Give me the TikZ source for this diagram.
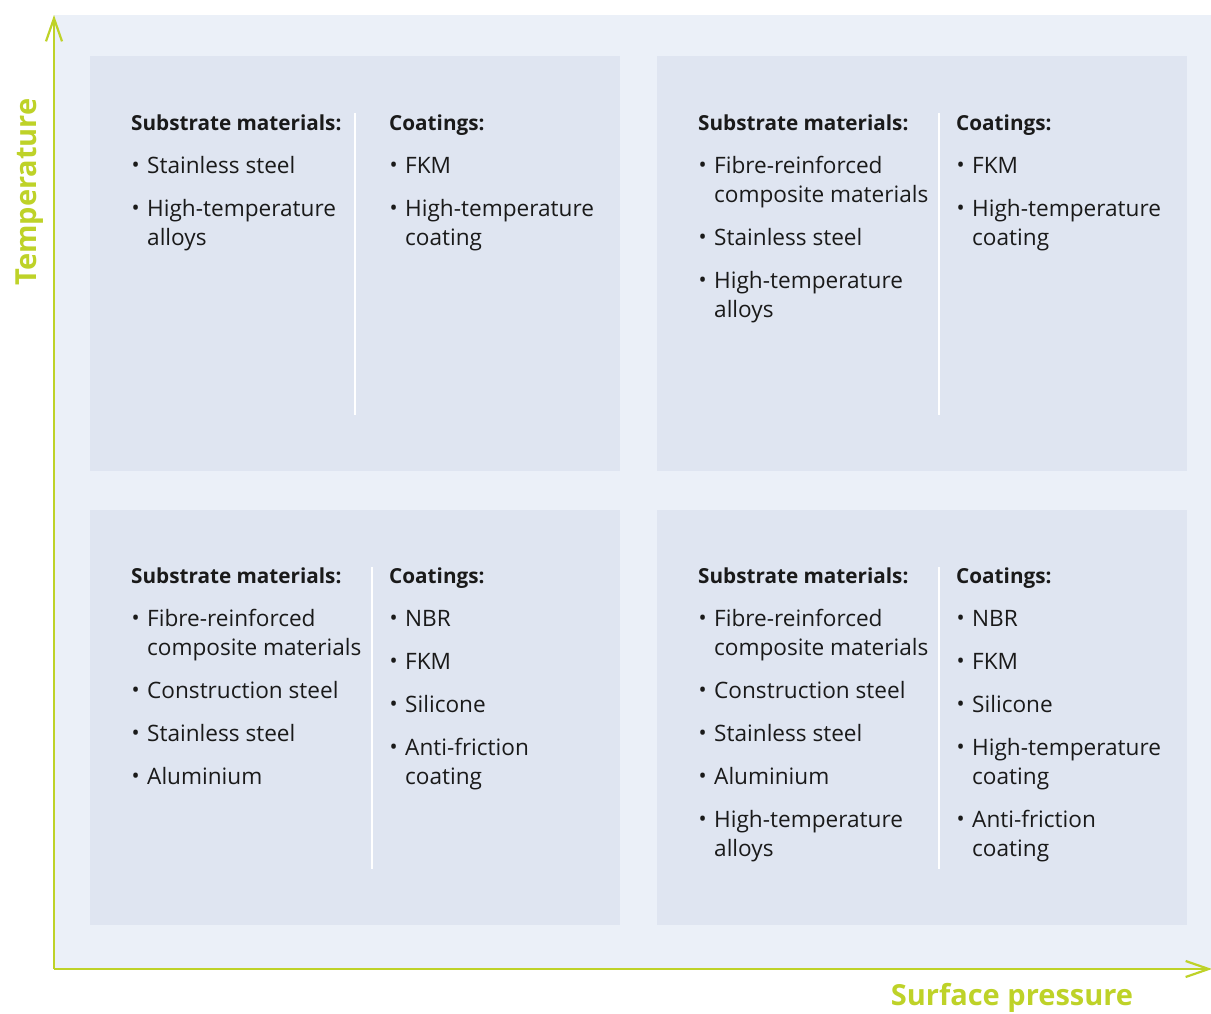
\documentclass[tikz,border=0pt]{standalone}
\usepackage{fontspec}
\usepackage{graphicx}
\setmainfont{Open Sans}
\usetikzlibrary{arrows.meta}
\definecolor{outerbg}{RGB}{235,240,248}
\definecolor{boxbg}{RGB}{223,229,241}
\definecolor{axisgreen}{RGB}{190,210,40}
\definecolor{txt}{RGB}{26,26,26}
\newcommand{\bitem}[1]{\par\noindent\hangindent=16pt\hangafter=1\makebox[16pt][l]{\hspace{0.5pt}\raisebox{0.5pt}{\scalebox{0.95}{\textbullet}}}#1}
\newcommand{\colcontent}[2]{\parbox[t]{240pt}{\fontsize{22.6}{29}\selectfont\parskip=14pt\noindent{\fontsize{20.7}{29}\selectfont\bfseries #1}#2}}
\tikzset{
  panel/.style={fill=boxbg, draw=none, minimum width=530pt, minimum height=415pt, anchor=north west, inner sep=0pt},
  txtcol/.style={anchor=base west, inner sep=0pt, text=txt},
  divider/.style={draw=white, line width=2.5pt},
  axis/.style={draw=axisgreen, line width=2.8pt, -{Straight Barb[length=23pt,width=16pt,line width=2.2pt]}},
  axislabel/.style={text=axisgreen, inner sep=0pt, font=\fontsize{29}{33}\selectfont\bfseries}
}
\begin{document}
\begin{tikzpicture}[x=1pt,y=-1pt]
\useasboundingbox (0,0) rectangle (1211,1013);
\fill[outerbg] (54,15) rectangle (1215,969);

% panels
\node[panel] (tl) at (90,56) {};
\node[panel] (tr) at (657,56) {};
\node[panel] (bl) at (90,510) {};
\node[panel] (br) at (657,510) {};

% dividers
\coordinate (tld1) at (355,113); \coordinate (tld2) at (355,415);
\coordinate (trd1) at (939,113); \coordinate (trd2) at (939,415);
\coordinate (bld1) at (372,567); \coordinate (bld2) at (372,869);
\coordinate (brd1) at (939,567); \coordinate (brd2) at (939,869);
\draw[divider] (tld1) -- (tld2);
\draw[divider] (trd1) -- (trd2);
\draw[divider] (bld1) -- (bld2);
\draw[divider] (brd1) -- (brd2);

% top-left
\node[txtcol] (tlsub) at (131,130) {\colcontent{Substrate materials:}{\bitem{Stainless steel}\bitem{High-temperature\\alloys}}};
\node[txtcol] (tlcoat) at (389,130) {\colcontent{Coatings:}{\bitem{FKM}\bitem{High-temperature\\coating}}};

% top-right
\node[txtcol] (trsub) at (698,130) {\colcontent{Substrate materials:}{\bitem{Fibre-reinforced\\composite materials}\bitem{Stainless steel}\bitem{High-temperature\\alloys}}};
\node[txtcol] (trcoat) at (956,130) {\colcontent{Coatings:}{\bitem{FKM}\bitem{High-temperature\\coating}}};

% bottom-left
\node[txtcol] (blsub) at (131,583) {\colcontent{Substrate materials:}{\bitem{Fibre-reinforced\\composite materials}\bitem{Construction steel}\bitem{Stainless steel}\bitem{Aluminium}}};
\node[txtcol] (blcoat) at (389,583) {\colcontent{Coatings:}{\bitem{NBR}\bitem{FKM}\bitem{Silicone}\bitem{Anti-friction\\coating}}};

% bottom-right
\node[txtcol] (brsub) at (698,583) {\colcontent{Substrate materials:}{\bitem{Fibre-reinforced\\composite materials}\bitem{Construction steel}\bitem{Stainless steel}\bitem{Aluminium}\bitem{High-temperature\\alloys}}};
\node[txtcol] (brcoat) at (956,583) {\colcontent{Coatings:}{\bitem{NBR}\bitem{FKM}\bitem{Silicone}\bitem{High-temperature\\coating}\bitem{Anti-friction\\coating}}};

% axes
\coordinate (origin) at (54,969);
\coordinate (ytip) at (54,15);
\coordinate (xtip) at (1212,969);
\draw[axis] (origin) -- (ytip);
\draw[axis] (origin) -- (xtip);
\node[axislabel, rotate=90, anchor=base] (templ) at (36,192) {Temperature};
\node[axislabel, anchor=base] (pressl) at (1012,1005) {Surface pressure};
\end{tikzpicture}
\end{document}
